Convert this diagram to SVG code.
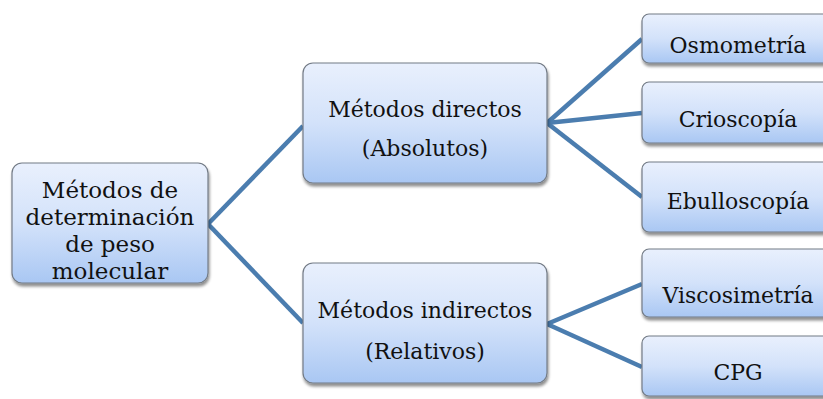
<svg xmlns="http://www.w3.org/2000/svg" width="823" height="399" viewBox="0 0 823 399">
<defs>
<linearGradient id="g" x1="0" y1="0" x2="0" y2="1">
<stop offset="0" stop-color="#e9f0fd"/>
<stop offset="0.5" stop-color="#d3e2fa"/>
<stop offset="1" stop-color="#a9c7f3"/>
</linearGradient>
<filter id="sh" x="-10%" y="-10%" width="130%" height="130%">
<feGaussianBlur in="SourceAlpha" stdDeviation="1.5"/>
<feOffset dx="1" dy="2.5" result="b"/>
<feComponentTransfer><feFuncA type="linear" slope="0.45"/></feComponentTransfer>
<feMerge><feMergeNode/><feMergeNode in="SourceGraphic"/></feMerge>
</filter>
</defs>
<style>
.box{fill:url(#g);stroke:#737b86;stroke-width:1.2;filter:url(#sh)}
.t{font-family:"DejaVu Serif","Liberation Serif",serif;font-size:22px;fill:#111;text-anchor:middle}
.big{font-size:23px}
.c{stroke:#4b7daf;stroke-width:4.5;fill:none;stroke-linecap:butt}
</style>
<rect width="823" height="399" fill="#fff"/>
<g id="connectors">
<line class="c" x1="208" y1="224" x2="303" y2="126"/>
<line class="c" x1="208" y1="224" x2="303" y2="323"/>
<line class="c" x1="547" y1="123" x2="642" y2="39"/>
<line class="c" x1="547" y1="123" x2="642" y2="113"/>
<line class="c" x1="547" y1="123" x2="642" y2="197"/>
<line class="c" x1="547" y1="324" x2="642" y2="284"/>
<line class="c" x1="547" y1="324" x2="642" y2="367"/>
</g>
<g id="root">
<rect class="box" x="12" y="163" width="196" height="120" rx="10"/>
<text class="t big" x="110" y="198">Métodos de</text>
<text class="t big" x="110" y="225">determinación</text>
<text class="t big" x="110" y="252">de peso</text>
<text class="t big" x="110" y="279">molecular</text>
</g>
<g id="directos">
<rect class="box" x="303" y="63" width="244" height="120" rx="10"/>
<text class="t" x="425" y="117">Métodos directos</text>
<text class="t" x="425" y="156">(Absolutos)</text>
</g>
<g id="indirectos">
<rect class="box" x="303" y="263" width="244" height="120" rx="10"/>
<text class="t" x="425" y="318">Métodos indirectos</text>
<text class="t" x="425" y="359">(Relativos)</text>
</g>
<g id="osmometria">
<rect class="box" x="642" y="14" width="192" height="49" rx="7"/>
<text class="t" x="738" y="53">Osmometría</text>
</g>
<g id="crioscopia">
<rect class="box" x="642" y="82" width="192" height="61" rx="7"/>
<text class="t" x="738" y="127">Crioscopía</text>
</g>
<g id="ebulloscopia">
<rect class="box" x="642" y="162" width="192" height="70" rx="7"/>
<text class="t" x="738" y="209">Ebulloscopía</text>
</g>
<g id="viscosimetria">
<rect class="box" x="642" y="249" width="192" height="68" rx="7"/>
<text class="t" x="738" y="303">Viscosimetría</text>
</g>
<g id="cpg">
<rect class="box" x="642" y="336" width="192" height="60" rx="7"/>
<text class="t" x="738" y="380">CPG</text>
</g>
</svg>
